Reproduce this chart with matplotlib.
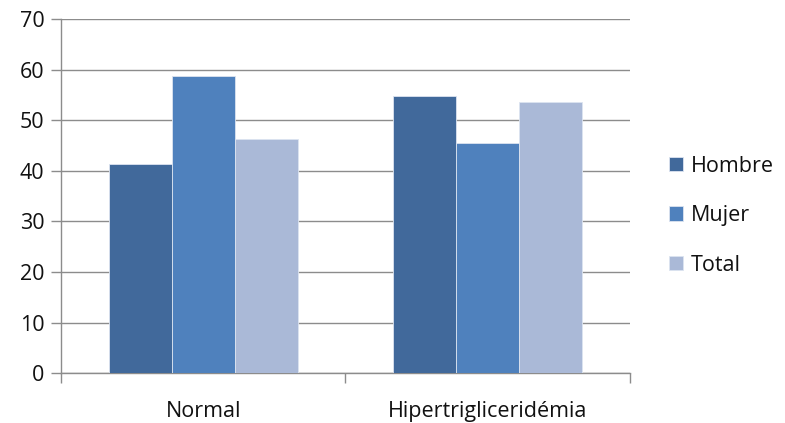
import matplotlib.pyplot as plt
import numpy as np

categorias = ['Normal', 'Hipertrigliceridémia']
series = ['Hombre', 'Mujer', 'Total']
hombre = [41.4, 54.8]
mujer = [58.8, 45.6]
total = [46.3, 53.7]
colores = ['#41699B', '#4F81BD', '#AAB9D7']

plt.rcParams['font.family'] = ['Open Sans', 'DejaVu Sans']

fig = plt.figure(figsize=(7.85, 4.23), dpi=100)
ax = fig.add_axes([0.0777, 0.1175, 0.7248, 0.8375])

x = np.arange(len(categorias))
ancho = 0.221
for i, (nombre, vals) in enumerate(zip(series, [hombre, mujer, total])):
    ax.bar(x + (i - 1) * ancho, vals, ancho, color=colores[i], label=nombre,
           edgecolor='#DCE4F0', linewidth=0.6, zorder=3)

ax.set_xlim(-0.5, 1.5)
ax.set_ylim(0, 70)
ax.set_yticks(range(0, 71, 10))
ax.yaxis.grid(True, color='#8C8C8C', linewidth=1.0, zorder=0)
ax.set_axisbelow(True)

ax.set_xticks(x)
ax.set_xticklabels(categorias)
ax.set_xticks([-0.5, 0.5, 1.5], minor=True)
ax.tick_params(axis='x', which='major', length=0, pad=20, labelsize=15.5, colors='#111111')
ax.tick_params(axis='x', which='minor', length=7, color='#8C8C8C', width=1)
ax.tick_params(axis='y', length=7, color='#8C8C8C', width=1, labelsize=15.5, pad=5,
               colors='#111111')

for s in ['top', 'right']:
    ax.spines[s].set_visible(False)
for s in ['left', 'bottom']:
    ax.spines[s].set_color('#8C8C8C')
    ax.spines[s].set_linewidth(1.0)

leg = ax.legend(loc='center left', bbox_to_anchor=(1.035, 0.445), frameon=False,
                fontsize=15.5, handlelength=0.65, handleheight=0.65, handletextpad=0.35,
                labelspacing=1.33)
for t in leg.get_texts():
    t.set_color('#111111')

fig.savefig('out.png', dpi=100)
